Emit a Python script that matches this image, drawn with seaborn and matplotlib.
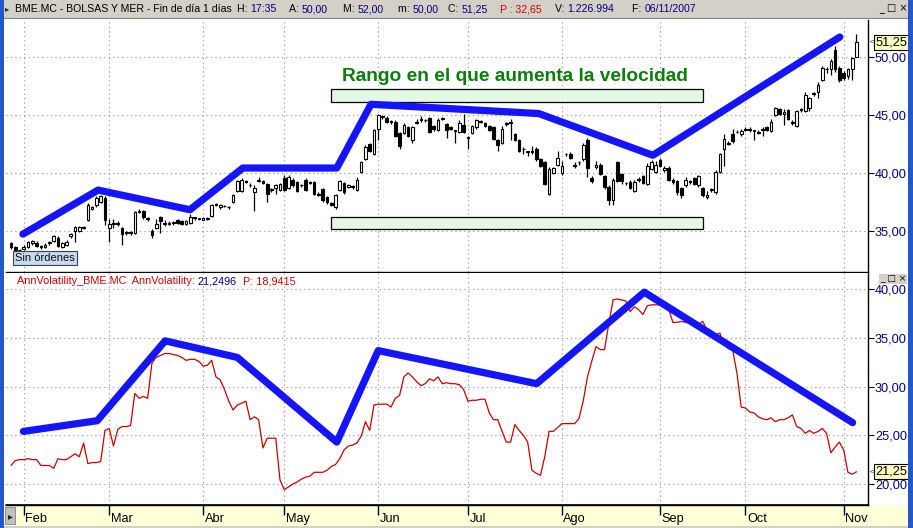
import numpy as np
import pandas as pd
import matplotlib
matplotlib.use("Agg")
import matplotlib.pyplot as plt
import matplotlib.transforms as mtransforms
from matplotlib.patches import Rectangle
import seaborn as sns

# ---------------- data ----------------
opens = [33.9,33.6,33.3,33.4,33.6,33.9,33.9,33.7,33.6,33.9,34.1,34.4,33.6,33.8,34.5,35.0,35.0,35.3,35.9,36.9,
         37.2,37.5,37.8,35.2,35.6,35.7,35.2,34.8,34.8,34.8,36.6,36.7,36.1,35.0,35.2,36.2,35.7,35.6,35.7,35.9,
         35.8,35.6,35.7,36.1,36.0,35.9,36.0,36.3,37.2,37.0,37.1,37.0,37.5,38.4,38.4,39.3,38.9,38.3,39.3,39.3,
         39.0,38.6,38.7,38.5,39.5,38.7,39.4,39.2,38.9,39.4,39.2,39.2,38.2,38.6,37.9,37.4,37.0,38.5,39.1,38.8,
         38.8,38.5,40.1,41.2,42.5,41.6,43.8,44.8,44.7,44.4,44.4,43.4,43.4,43.9,42.8,44.3,44.5,44.5,44.7,44.0,
         43.7,44.6,44.2,43.9,43.6,43.5,44.1,43.0,43.4,43.9,44.4,44.3,44.0,43.9,42.8,42.6,44.2,44.3,43.3,42.8,
         42.0,41.8,41.9,42.0,41.2,40.9,38.2,40.0,40.7,40.0,41.6,41.6,40.6,40.9,41.2,42.8,39.5,40.5,40.7,39.7,
         38.8,37.6,40.9,39.9,39.1,39.2,38.4,39.4,39.7,39.0,40.3,40.1,41.1,40.2,40.4,39.4,39.3,38.7,38.9,39.2,
         39.5,38.9,38.7,37.9,38.5,38.3,40.1,42.0,42.5,43.3,43.5,43.3,43.7,43.8,43.6,43.4,43.7,43.9,43.6,45.0,
         45.5,45.1,45.4,44.3,44.0,45.4,45.3,45.6,46.8,47.0,48.0,48.9,48.9,50.6,49.0,48.6,48.3,48.9,50.0]
highs = [34.0,33.7,33.4,33.8,34.1,34.2,34.1,33.8,33.9,34.1,34.6,34.5,34.0,34.2,34.8,35.4,35.4,35.4,37.4,37.1,
         38.0,38.1,38.0,36.0,36.0,35.8,35.3,35.0,35.0,36.7,36.9,36.8,36.2,35.1,36.0,36.3,35.9,35.8,35.8,36.0,
         35.9,35.9,36.4,36.2,36.1,36.2,36.2,37.3,37.4,37.3,37.2,37.1,38.2,39.4,39.5,39.4,39.1,38.9,39.6,39.4,
         39.1,38.7,39.0,39.1,39.8,39.8,39.5,39.3,39.0,39.5,39.3,39.3,38.3,38.7,38.0,37.5,38.2,39.4,39.2,39.0,
         38.9,39.6,41.0,42.4,42.6,43.8,45.1,45.0,44.9,44.5,44.5,43.5,44.3,44.0,44.0,44.6,44.9,44.6,44.8,44.1,
         44.7,44.8,44.3,44.0,43.7,44.5,45.1,43.2,44.1,44.6,44.5,44.4,44.1,44.0,42.9,44.0,44.4,44.6,43.4,42.9,
         42.2,41.9,42.3,42.2,41.3,41.0,40.5,40.5,41.9,41.0,41.7,41.8,40.9,41.0,42.6,43.0,39.7,41.0,40.8,39.8,
         38.9,39.5,41.0,40.0,39.2,39.4,39.4,39.6,39.8,40.8,41.1,41.0,41.3,40.6,40.6,39.5,39.4,38.8,39.6,39.4,
         39.6,39.8,38.8,38.4,38.7,40.2,41.7,43.3,42.7,43.8,43.7,43.8,43.9,43.9,43.7,43.7,43.9,44.0,44.6,45.7,
         45.6,45.5,45.5,44.5,45.4,45.6,47.0,46.5,47.0,47.8,49.2,49.1,49.8,50.9,49.2,48.8,49.0,50.0,52.0]
lows = [33.4,33.2,33.2,33.3,33.5,33.8,33.6,33.4,33.5,33.8,34.0,33.6,33.5,33.7,34.4,34.0,34.9,35.1,35.8,36.8,
        37.0,37.4,35.5,34.0,35.2,35.4,33.8,34.6,34.6,34.7,36.5,36.0,35.8,34.4,35.1,34.8,35.4,35.5,35.5,35.6,
        35.5,35.5,35.6,35.9,35.9,35.9,35.9,36.2,37.1,36.9,37.0,36.9,37.4,38.3,38.3,39.1,38.8,36.7,39.2,39.0,
        37.5,38.3,38.2,38.4,38.4,38.6,38.8,38.3,38.8,38.4,39.0,38.1,38.0,37.5,37.3,37.1,36.9,38.4,38.2,38.7,
        38.6,38.4,40.0,41.1,41.8,41.5,42.8,44.6,44.3,44.2,43.1,42.0,43.3,43.1,42.6,44.2,44.4,44.4,43.4,43.6,
        43.6,44.5,43.0,43.7,42.6,43.4,43.4,42.0,43.3,43.8,44.3,43.9,43.6,42.8,41.9,42.5,44.0,42.8,42.7,41.8,
        41.6,41.4,41.6,41.0,40.5,38.9,38.1,39.9,40.6,39.8,41.4,41.2,40.4,40.7,41.0,39.6,39.1,40.3,39.8,38.6,
        37.2,37.2,39.2,39.0,38.9,38.6,38.3,39.2,39.0,38.9,40.2,40.0,40.5,40.1,39.3,39.0,38.1,37.8,38.8,39.0,
        38.9,38.8,37.9,37.7,38.3,38.2,40.0,40.6,42.4,42.6,43.4,43.2,43.6,43.5,42.8,43.3,43.2,43.6,43.5,44.9,
        45.0,44.1,44.5,44.1,43.9,45.2,45.2,45.3,46.6,46.4,47.9,48.6,48.4,48.7,47.8,48.0,48.1,48.0,50.0]
closes = [33.6,33.3,33.3,33.6,34.0,34.1,33.7,33.6,33.8,34.0,34.5,33.7,33.9,34.0,34.7,35.3,35.3,35.2,37.2,37.0,
          37.8,38.0,35.9,35.6,35.6,35.6,34.7,34.8,34.8,36.6,36.7,36.2,36.0,34.6,35.6,35.8,35.6,35.7,35.7,35.7,
          35.6,35.8,36.2,36.1,36.0,36.1,36.1,37.2,37.3,37.2,37.1,37.0,38.1,39.3,39.4,39.2,38.9,38.7,39.4,39.1,
          38.2,38.5,38.9,39.0,38.5,39.6,38.9,38.4,38.9,38.5,39.1,38.2,38.1,37.6,37.5,37.2,38.1,39.3,38.3,38.9,
          38.8,39.4,40.9,42.2,41.9,43.7,45.0,44.9,44.4,44.4,43.2,42.3,44.1,43.2,43.9,44.4,44.6,44.5,43.5,43.8,
          44.5,44.7,43.7,43.8,43.6,44.3,43.5,43.0,44.0,44.5,44.4,44.0,43.7,42.9,42.4,43.8,44.2,44.3,42.8,41.9,
          42.0,41.8,41.8,41.2,40.6,39.0,40.3,40.4,41.3,40.6,41.6,41.3,40.6,40.9,42.4,40.4,39.3,40.7,39.9,38.8,
          37.6,39.4,39.3,39.3,39.1,38.7,39.2,39.4,39.1,40.6,40.9,40.7,40.6,40.4,39.4,39.2,38.3,38.1,39.4,39.2,
          39.0,39.7,38.1,38.1,38.5,40.1,41.6,42.9,42.5,42.7,43.5,43.6,43.7,43.7,43.6,43.5,43.7,43.7,44.4,45.6,
          45.1,45.2,44.6,44.3,45.3,45.4,46.7,46.4,46.8,47.6,49.0,48.9,49.6,48.9,48.0,48.2,48.9,49.9,51.25]
volatility = [21.9,22.4,22.5,22.5,22.6,22.5,22.5,21.9,21.9,21.9,21.6,22.6,22.5,22.5,22.8,23.1,22.8,24.2,22.1,22.2,
              22.2,22.3,25.5,25.7,23.9,25.6,25.9,25.9,26.0,29.3,28.8,29.0,28.8,32.4,33.0,33.2,33.4,33.4,33.3,33.2,
              33.0,32.7,32.8,32.8,32.6,32.1,32.2,32.7,31.0,30.7,29.7,28.5,27.6,28.1,28.3,28.5,26.6,26.9,26.6,23.7,
              24.7,24.7,24.7,20.4,19.4,19.7,20.0,20.2,20.5,20.7,20.8,21.2,21.2,21.2,21.4,21.8,22.0,22.6,23.5,23.9,
              24.0,24.2,24.9,26.4,25.5,28.1,28.2,28.2,28.2,27.9,28.8,29.1,31.0,31.4,31.0,30.5,30.1,30.3,30.8,30.6,
              31.0,30.3,30.4,30.3,30.3,30.2,29.7,28.5,28.6,28.6,28.7,28.7,27.3,26.6,26.6,25.4,24.3,24.3,26.1,25.5,
              25.0,24.3,21.4,21.1,20.9,22.8,25.4,25.4,25.8,26.2,26.2,26.2,26.2,26.7,28.5,31.0,32.6,34.1,33.8,33.8,
              36.5,38.9,39.0,38.9,38.8,37.7,38.2,37.9,37.4,38.3,38.4,38.4,38.4,38.6,38.0,36.6,36.6,36.7,36.6,36.5,
              36.2,36.4,36.7,35.8,35.1,35.3,35.5,34.3,33.9,33.8,31.4,27.9,27.8,27.4,27.3,26.9,26.7,26.6,26.8,26.4,
              26.6,26.6,26.8,27.1,25.9,25.7,25.2,25.5,25.2,25.4,25.7,25.2,23.2,23.8,24.3,23.5,21.2,21.0,21.25]

# hand-drawn trend lines (session index, value)
price_trend_x = [2.8, 20.4, 41.9, 54.3, 76.3, 84.3, 123.6, 150.3, 194.1]
price_trend_y = [34.7, 38.5, 36.8, 40.4, 40.4, 45.9, 45.1, 41.5, 51.7]
vol_trend_x = [2.9, 20.2, 36.1, 53.0, 76.3, 86.0, 123.1, 148.3, 197.1]
vol_trend_y = [25.4, 26.5, 34.7, 33.0, 24.3, 33.7, 30.3, 39.7, 26.3]

band_x = [74.9, 162.0]
band_upper = [46.1, 47.2]
band_lower = [35.1, 36.2]

month_labels = ["Feb", "Mar", "Abr", "May", "Jun", "Jul", "Ago", "Sep", "Oct", "Nov"]
price_ticks = [35, 40, 45, 50]
vol_ticks = [20, 25, 30, 35, 40]
last_price = 51.25
last_vol = 21.25
holidays = ["2007-04-06", "2007-04-09", "2007-05-01"]

header_groups = [("BME.MC - BOLSAS Y MER - Fin de día 1 días", "", "black"),
                 ("H: ", "17:35", "#000080"), ("A: ", "50,00", "#000080"),
                 ("M: ", "52,00", "#000080"), ("m: ", "50,00", "#000080"),
                 ("C: ", "51,25", "#000080"), ("P : 32,65", "", "#cc0000"),
                 ("V: ", "1.226.994", "#000080"), ("F: ", "06/11/2007", "#000080")]

# trading calendar ending 06/11/2007
alldays = pd.bdate_range(end="2007-11-06", periods=len(closes) + 10)
alldays = alldays[~alldays.isin(pd.to_datetime(holidays))]
dates = alldays[-len(closes):]
idx = np.arange(len(closes))
df = pd.DataFrame({"date": dates, "i": idx, "o": opens, "h": highs, "l": lows,
                   "c": closes, "vol": volatility})
month_first = df.groupby(df["date"].dt.to_period("M"))["i"].min().values[1:]

# ---------------- figure ----------------
sns.set_theme(style="white")
plt.rcParams["font.family"] = ["Liberation Sans", "DejaVu Sans"]

W, H = 913, 528
fig = plt.figure(figsize=(W / 100, H / 100), dpi=100)
fig.patch.set_facecolor("white")

def fx(px):
    return px / W

def fy(py):
    return 1 - py / H

def axrect(x0, y0, x1, y1):
    return [fx(x0), fy(y1), fx(x1) - fx(x0), fy(y0) - fy(y1)]

def fig_rect(x0, y0, x1, y1, fc, ec="none", lw=0, z=-1):
    fig.patches.append(Rectangle((fx(x0), fy(y1)), fx(x1) - fx(x0), fy(y0) - fy(y1),
                                 transform=fig.transFigure, facecolor=fc, edgecolor=ec,
                                 lw=lw, zorder=z))

NAVY = "#000080"
RED = "#cc0000"
BLUE = "#1414ff"
GRID = dict(color="#909090", linestyle=(0, (1, 3)), linewidth=0.8)

# window chrome
fig_rect(0, 0, W, 18, "#d4d0c8")
fig_rect(0, 18, W, 19, "#808080")
fig_rect(4, 505, 908, 526, "#ffffd8")
fig_rect(4, 526, 908, 528, "#d4d0c8")
fig_rect(5, 507, 15, 524, "#c0c0c0", ec="#808080", lw=0.6, z=1)
fig_rect(0, 0, 4, H, "#2457c8", z=20)
fig_rect(908, 0, W, H, "#2457c8", z=20)
fig.text(fx(10), fy(516), "\u25b8", fontsize=7, ha="center", va="center", family="DejaVu Sans", zorder=21)

ax1 = fig.add_axes(axrect(6, 20, 868, 272))
ax2 = fig.add_axes(axrect(6, 273, 868, 505))
ax3 = fig.add_axes(axrect(6, 505, 868, 525))
ax3.set_zorder(5)

xlim = (-1.17, 200.7)

def style_panel(ax, ticks, ylim):
    ax.set_facecolor("white")
    ax.set_xlim(*xlim)
    ax.set_ylim(*ylim)
    ax.set_xticks(month_first)
    ax.set_xticklabels([])
    ax.tick_params(axis="x", length=0)
    ax.yaxis.tick_right()
    ax.set_yticks(ticks)
    ax.set_yticklabels([f"{t:.2f}".replace(".", ",") for t in ticks])
    ax.tick_params(axis="y", length=4, width=0.8, color="black", pad=1,
                   labelsize=9.2, labelcolor=NAVY)
    ax.grid(True, **GRID)
    for s in ["left", "top"]:
        ax.spines[s].set_visible(False)
    for s in ["right", "bottom"]:
        ax.spines[s].set_visible(True)
        ax.spines[s].set_color("black")
        ax.spines[s].set_linewidth(1.0)

style_panel(ax1, price_ticks, (31.43, 53.17))
style_panel(ax2, vol_ticks, (17.84, 41.67))

# ---- candlesticks ----
up = df["c"] >= df["o"]
ax1.vlines(df["i"], df["l"], df["h"], color="black", lw=0.9, zorder=2)
body_bot = np.minimum(df["o"], df["c"])
body_h = np.maximum(np.abs(df["c"] - df["o"]), 0.05)
ax1.bar(df["i"][up], body_h[up], bottom=body_bot[up], width=0.62,
        color="white", edgecolor="black", lw=0.8, zorder=3)
ax1.bar(df["i"][~up], body_h[~up], bottom=body_bot[~up], width=0.62,
        color="black", edgecolor="black", lw=0.8, zorder=3)

# green bands
for lo, hi in (band_upper, band_lower):
    ax1.add_patch(Rectangle((band_x[0], lo), band_x[1] - band_x[0], hi - lo,
                            facecolor="#e3f9e3", edgecolor="black", lw=0.9, zorder=2.5))

ax1.text(np.mean(band_x) - 0.5, 47.9, "Rango en el que aumenta la velocidad",
         color="#0a800a", fontsize=13.8, fontweight="bold", ha="center", va="baseline", zorder=6)

# trend line on price
sns.lineplot(x=price_trend_x, y=price_trend_y, ax=ax1, color=BLUE, lw=5.2, sort=False,
             estimator=None, solid_capstyle="round", solid_joinstyle="round", zorder=5)

# ---- volatility ----
sns.lineplot(data=df, x="i", y="vol", ax=ax2, color=RED, lw=0.9, estimator=None, zorder=3)
sns.lineplot(x=vol_trend_x, y=vol_trend_y, ax=ax2, color=BLUE, lw=5.2, sort=False,
             estimator=None, solid_capstyle="round", solid_joinstyle="round", zorder=5)

for ax in (ax1, ax2):
    ax.set_xlabel("")
    ax.set_ylabel("")

# last value boxes
for ax, val in ((ax1, last_price), (ax2, last_vol)):
    tr = mtransforms.blended_transform_factory(ax.transAxes, ax.transData)
    ax.text(1.0015, val, "<", transform=tr, fontsize=6, ha="left", va="center",
            color="#303030", clip_on=False)
    ax.text(1.0085, val, f"{val:.2f}".replace(".", ","), transform=tr, fontsize=9.2,
            ha="left", va="center", color="black", clip_on=False, zorder=10,
            bbox=dict(boxstyle="square,pad=0.12", fc="#ffffc0", ec="black", lw=0.8))

# ---- month strip ----
ax3.set_xlim(*xlim)
ax3.set_ylim(0, 1)
ax3.axis("off")
ax3.vlines(month_first, 0.5, 1.0, color="black", lw=1.0)
for m, lab in zip(month_first, month_labels):
    ax3.text(m + 0.35, 0.3, lab, fontsize=9.2, ha="left", va="center", color="black")
ax3.axhline(1.0, color="black", lw=1.2, clip_on=False)

# ---- header texts ----
renderer = fig.canvas.get_renderer()

def color_text(x_px, y_px, pieces, size):
    x = x_px
    for s, col in pieces:
        t = fig.text(fx(x), fy(y_px), s, color=col, fontsize=size, ha="left", va="center")
        x += t.get_window_extent(renderer=renderer).width

fig.text(fx(7), fy(9), "\u25b8", fontsize=6, ha="center", va="center", family="DejaVu Sans")
header_x = [15, 237, 289, 343, 398, 448, 500, 555, 632]
for x0, (lab, val, vcol) in zip(header_x, header_groups):
    lab_col = "#cc0000" if vcol == "#cc0000" else "black"
    color_text(x0, 9, [(lab, lab_col), (val, vcol)], 7.6)
fig.text(fx(893), fy(9), "_ \u25a1 \u00d7", fontsize=7, ha="center", va="center",
         family="DejaVu Sans", color="black")
fig.text(fx(893), fy(279), "_ \u25a1 \u00d7", fontsize=6.5, ha="center", va="center",
         family="DejaVu Sans", color="black", zorder=12,
         bbox=dict(boxstyle="square,pad=0.1", fc="#d4d0c8", ec="none"))

color_text(17, 281, [("AnnVolatility_BME.MC  AnnVolatility: ", RED), ("21,2496", NAVY),
                     ("  P: 18,9415", RED)], 7.8)

fig.text(fx(15), fy(258), "Sin órdenes", fontsize=8, ha="left", va="center", color="#101010",
         bbox=dict(boxstyle="square,pad=0.2", fc="#c6daf0", ec="#404040", lw=0.8), zorder=10)

fig.savefig("out.png", dpi=100, facecolor=fig.get_facecolor())
